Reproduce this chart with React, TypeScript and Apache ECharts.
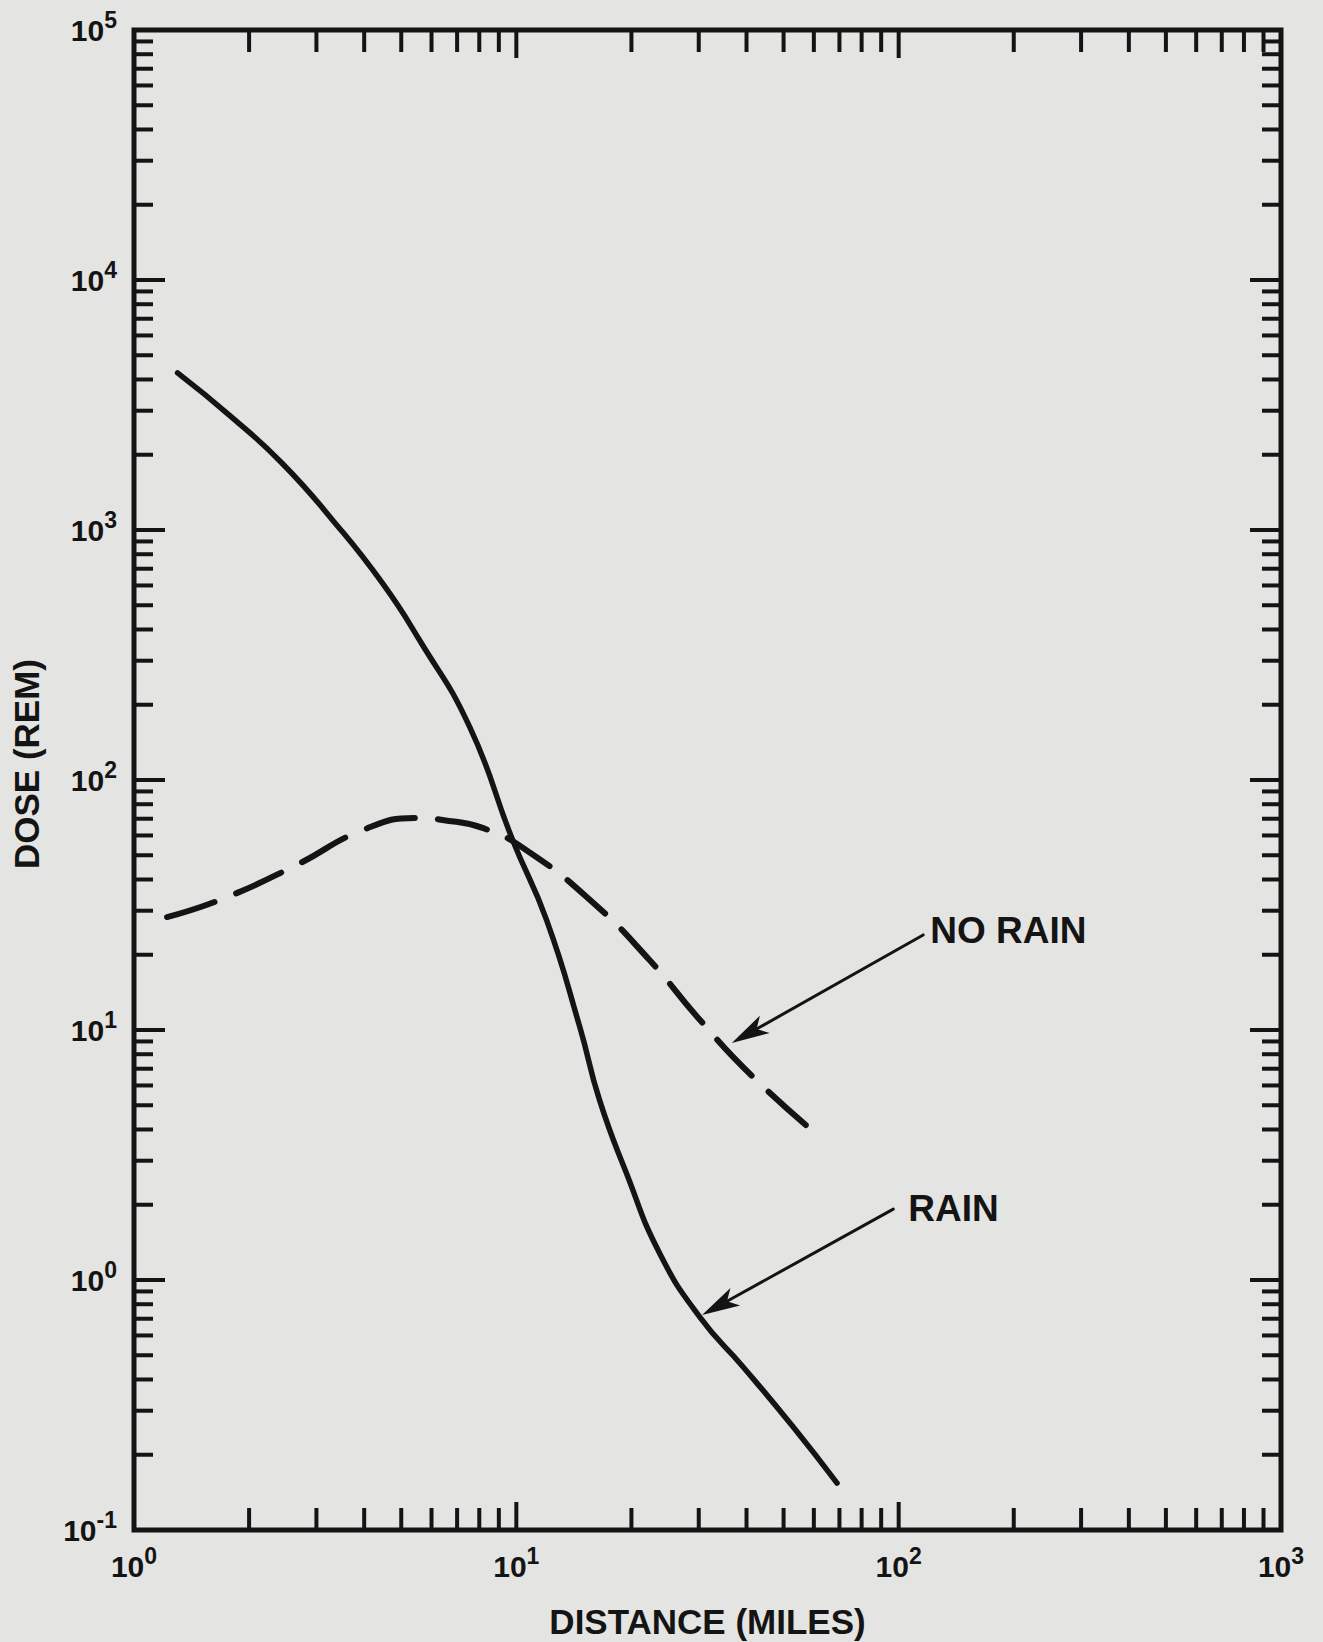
import React, { useEffect, useRef } from 'react';
import * as echarts from 'echarts';

const INK = '#141414';
const PAPER = '#e4e4e2';
const FONT = '"Liberation Sans", Arial, Helvetica, sans-serif';

// RAIN (solid curve)
const rainDistance = [1.3, 1.8, 2.44, 3.3, 4.46, 5.58, 7.55, 9.78, 12.0, 14.65, 16.5, 19.4, 23.7, 30.2, 39.2, 53, 69];
const rainDose = [4250, 2830, 1850, 1100, 614, 363, 163, 57.5, 27.5, 10.3, 5.25, 2.68, 1.28, 0.71, 0.449, 0.258, 0.154];

// NO RAIN (dashed curve)
const noRainDistance = [1.22, 1.7, 2.66, 3.96, 5.48, 6.41, 8.16, 10.6, 15.8, 22.3, 29.7, 41.6, 62.3];
const noRainDose = [28.3, 33.4, 45.7, 63, 70.5, 69.2, 64.3, 52.5, 32.5, 19.05, 11.3, 6.49, 3.73];

// annotations: label anchor, arrow start, arrow tip (data coords)
const annotationNames = ['NO RAIN', 'RAIN'];
const labelAnchor = [[121, 25.1], [106, 1.94]];
const arrowFrom = [[115.9, 24], [96.8, 1.92]];
const arrowTo = [[36.6, 8.87], [30.6, 0.724]];

// axis structure
const xDecades = [1, 10, 100, 1000];
const yDecades = [0.1, 1, 10, 100, 1000, 10000, 100000];
const minorMultipliers = [2, 3, 4, 5, 6, 7, 8, 9];

function tickList(decades: number[]) {
  const out: number[][] = [];
  decades.forEach((d, i) => {
    out.push([d, 1]);
    if (i < decades.length - 1) minorMultipliers.forEach((m) => out.push([d * m, 0]));
  });
  return out;
}

const labelRich = {
  b: { fontSize: 30, fontWeight: 'bold', color: INK, lineHeight: 44, fontFamily: FONT },
  s: { fontSize: 23, fontWeight: 'bold', color: INK, lineHeight: 22, verticalAlign: 'top', fontFamily: FONT },
};
const powLabel = (v: number) => `{b|10}{s|${Math.round(Math.log10(v))}}`;

export default function App() {
  const ref = useRef<HTMLDivElement>(null);
  useEffect(() => {
    if (!ref.current) return;
    const chart = echarts.init(ref.current, undefined, { renderer: 'svg' });
    const xTicks = tickList(xDecades).map(([v, m]) => [v, 1, m]);
    const yTicks = tickList(yDecades).map(([v, m]) => [1, v, m]);

    const option: any = {
      animation: false,
      backgroundColor: PAPER,
      textStyle: { fontFamily: FONT, color: INK },
      grid: {
        left: 134, right: 42, top: 30, bottom: 112,
        show: true, borderColor: INK, borderWidth: 5, backgroundColor: 'transparent',
        outerBoundsMode: 'none',
      },
      xAxis: {
        type: 'log', logBase: 10, min: 1, max: 1000,
        name: 'DISTANCE (MILES)', nameLocation: 'middle', nameGap: 74,
        nameTextStyle: { fontSize: 35, fontWeight: 'bold', color: INK, fontFamily: FONT },
        axisLine: { show: false }, axisTick: { show: false }, splitLine: { show: false },
        axisLabel: { margin: 14, formatter: powLabel, rich: labelRich },
      },
      yAxis: {
        type: 'log', logBase: 10, min: 0.1, max: 100000,
        name: 'DOSE (REM)', nameLocation: 'middle', nameGap: 90, nameRotate: 90,
        nameTextStyle: { fontSize: 35, fontWeight: 'bold', color: INK, fontFamily: FONT, padding: [0, 0, 0, 32] },
        axisLine: { show: false }, axisTick: { show: false }, splitLine: { show: false },
        axisLabel: { margin: 17, formatter: powLabel, rich: labelRich },
      },
      series: [
        {
          type: 'custom', name: 'yticks', silent: true, z: 5, clip: false,
          encode: { x: 0, y: 1 },
          data: yTicks,
          renderItem: (params: any, api: any) => {
            const cs = params.coordSys;
            const y = api.coord([1, api.value(1)])[1];
            const len = api.value(2) ? 31 : 19;
            return {
              type: 'group',
              children: [
                { type: 'line', shape: { x1: cs.x, y1: y, x2: cs.x + len, y2: y }, style: { stroke: INK, lineWidth: 4 } },
                { type: 'line', shape: { x1: cs.x + cs.width - len, y1: y, x2: cs.x + cs.width, y2: y }, style: { stroke: INK, lineWidth: 4 } },
              ],
            };
          },
        },
        {
          type: 'custom', name: 'xticks', silent: true, z: 5, clip: false,
          encode: { x: 0, y: 1 },
          data: xTicks,
          renderItem: (params: any, api: any) => {
            const cs = params.coordSys;
            const x = api.coord([api.value(0), 1])[0];
            const len = api.value(2) ? 28 : 22;
            return {
              type: 'group',
              children: [
                { type: 'line', shape: { x1: x, y1: cs.y + cs.height, x2: x, y2: cs.y + cs.height - len }, style: { stroke: INK, lineWidth: 4 } },
                { type: 'line', shape: { x1: x, y1: cs.y, x2: x, y2: cs.y + len }, style: { stroke: INK, lineWidth: 4 } },
              ],
            };
          },
        },
        {
          type: 'line', name: 'RAIN', smooth: 0.5, showSymbol: false, symbol: 'none',
          data: rainDistance.map((d, i) => [d, rainDose[i]]),
          lineStyle: { color: INK, width: 5.5, cap: 'round', join: 'round' },
          z: 3,
        },
        {
          type: 'line', name: 'NO RAIN', smooth: 0.5, showSymbol: false, symbol: 'none',
          data: noRainDistance.map((d, i) => [d, noRainDose[i]]),
          lineStyle: { color: INK, width: 6, type: [50, 23], cap: 'round' },
          z: 3,
        },
        {
          type: 'custom', name: 'arrows', silent: true, z: 6, clip: false,
          encode: { x: [0, 2], y: [1, 3] },
          data: arrowFrom.map((f, i) => [f[0], f[1], arrowTo[i][0], arrowTo[i][1]]),
          renderItem: (params: any, api: any) => {
            const s = api.coord([api.value(0), api.value(1)]);
            const t = api.coord([api.value(2), api.value(3)]);
            const dx = t[0] - s[0], dy = t[1] - s[1];
            const d = Math.hypot(dx, dy);
            const ux = dx / d, uy = dy / d;
            const L = 38, W = 10;
            const bx = t[0] - ux * L, by = t[1] - uy * L;
            const nx = -uy, ny = ux;
            const notch = [t[0] - ux * L * 0.75, t[1] - uy * L * 0.75];
            return {
              type: 'group',
              children: [
                { type: 'line', shape: { x1: s[0], y1: s[1], x2: notch[0], y2: notch[1] }, style: { stroke: INK, lineWidth: 3, lineCap: 'round' } },
                { type: 'polygon', shape: { points: [t, [bx + nx * W, by + ny * W], notch, [bx - nx * W, by - ny * W]] }, style: { fill: INK } },
              ],
            };
          },
        },
        {
          type: 'scatter', name: 'labels', silent: true, symbolSize: 0, z: 6,
          itemStyle: { opacity: 1, color: INK },
          data: annotationNames.map((n, i) => ({ name: n, value: labelAnchor[i] })),
          label: {
            show: true, position: 'right', distance: 0, formatter: '{b}',
            fontSize: 37, fontWeight: 'bold', color: INK, fontFamily: FONT, opacity: 1,
          },
        },
      ],
    };
    chart.setOption(option);
    return () => chart.dispose();
  }, []);
  return <div ref={ref} style={{ position: 'fixed', left: 0, top: 0, width: 1323, height: 1642 }} />;
}
